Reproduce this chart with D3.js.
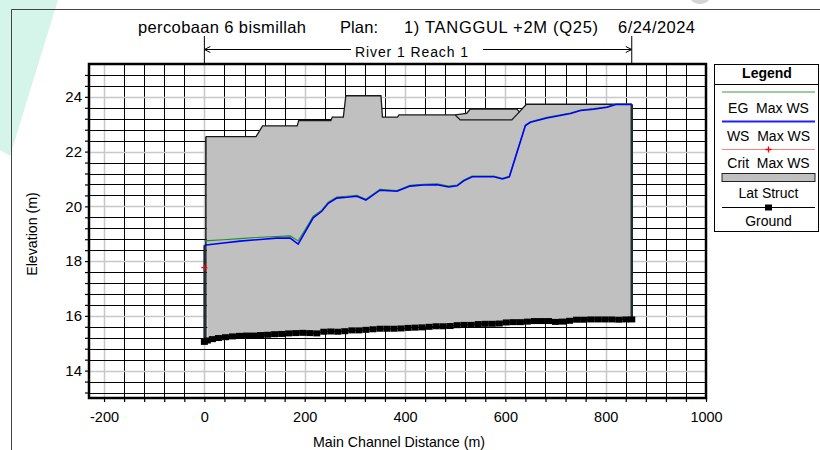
<!DOCTYPE html>
<html><head><meta charset="utf-8">
<script src="https://cdn.jsdelivr.net/npm/d3@7"></script>
<style>
html,body{margin:0;padding:0;background:#fff;}
svg{display:block;font-family:Arial,"Liberation Sans",sans-serif;}
</style></head>
<body>
<svg id="chart" width="820" height="450"></svg>
<script>
// ---------- DATA ----------
const titleParts = ["percobaan 6 bismillah", "Plan:", "1) TANGGUL +2M (Q25)", "6/24/2024"];
const reachLabel = "River 1 Reach 1";
const reachStart = 0, reachEnd = 852;
const xTickLabels = [-200, 0, 200, 400, 600, 800, 1000];
const yTickLabels = [14, 16, 18, 20, 22, 24];
const xTitle = "Main Channel Distance (m)";
const yTitle = "Elevation (m)";

const groundSta  = [0,6,16,28,42,56,70,84,98,112,126,140,154,168,182,196,210,224,238,252,266,280,294,308,322,336,350,364,378,392,406,420,434,448,462,476,490,504,518,532,546,560,574,588,602,616,630,644,658,672,686,700,714,728,742,756,770,784,798,812,826,840,852];
const groundElev = [15.05,15.10,15.15,15.19,15.22,15.25,15.27,15.28,15.28,15.30,15.31,15.33,15.34,15.36,15.37,15.38,15.37,15.36,15.42,15.43,15.42,15.44,15.47,15.47,15.49,15.51,15.53,15.53,15.53,15.54,15.56,15.57,15.58,15.60,15.62,15.62,15.63,15.66,15.67,15.67,15.70,15.71,15.71,15.72,15.76,15.77,15.77,15.79,15.81,15.81,15.81,15.78,15.79,15.82,15.86,15.86,15.87,15.87,15.87,15.87,15.86,15.87,15.87];

const wsSta  = [0,8,38,71,111,144,171,187,201,217,234,247,264,284,304,322,350,384,410,437,464,487,504,517,534,577,594,608,640,650,683,730,750,776,803,820,852];
const wsElev = [18.58,18.60,18.66,18.73,18.79,18.84,18.84,18.62,19.07,19.58,19.82,20.11,20.30,20.33,20.37,20.23,20.59,20.55,20.74,20.78,20.79,20.71,20.75,20.93,21.08,21.08,21.00,21.08,22.95,23.07,23.23,23.39,23.50,23.55,23.62,23.72,23.72];
const egSta  = [0,8,38,71,111,144,171,187,201,217,234,247,264,284,304,322,350,384,410,437,464,487,504,517,534,577,594,608,640,650,683,730,750,776,803,820,852];
const egElev = [18.74,18.75,18.78,18.82,18.87,18.90,18.92,18.74,19.15,19.64,19.86,20.15,20.34,20.37,20.40,20.26,20.62,20.58,20.77,20.81,20.82,20.74,20.78,20.96,21.11,21.11,21.03,21.10,22.97,23.09,23.25,23.41,23.52,23.57,23.64,23.74,23.74];
const critSta  = [0];
const critElev = [17.76];

const latSta  = [3,103,116,185,188,252,255,277,282,352,355,385,388,500,523,530,623,628,642,852];
const latElev = [22.55,22.55,22.94,22.94,23.13,23.13,23.26,23.26,24.04,24.04,23.26,23.26,23.34,23.34,23.40,23.55,23.55,23.45,23.73,23.73];
const latLowSta  = [500,510,613,628];
const latLowElev = [23.34,23.16,23.16,23.45];

const legendItems = ["EG  Max WS", "WS  Max WS", "Crit  Max WS", "Lat Struct", "Ground"];

// ---------- LAYOUT ----------
const svg = d3.select("#chart");
const L = 89, R = 706, T = 64, B = 398;
const x = d3.scaleLinear().domain([-230, 1000]).range([L, R]);
const y = d3.scaleLinear().domain([13, 25.2]).range([B, T]);

// decorative background
svg.append("polygon").attr("points", "0,0 58,0 10,156 0,150").attr("fill", "#d6f5ea");
svg.append("ellipse").attr("cx", 700).attr("cy", -10).attr("rx", 13).attr("ry", 14).attr("fill", "#d4d4d4");
svg.append("path").attr("d", "M11.5,450 V9.5 H820").attr("fill", "none").attr("stroke", "#444").attr("stroke-width", 1);

// title
const titleX = [138, 340, 404, 618], titleW = [168, 38, 194, 77];
titleParts.forEach((t, i) => {
  svg.append("text").attr("x", titleX[i]).attr("y", 33).attr("font-size", 16.5)
    .attr("textLength", titleW[i]).attr("lengthAdjust", "spacing").attr("fill", "#000").text(t);
});

// reach arrow
const xr0 = x(reachStart), xr1 = x(reachEnd);
svg.append("text").attr("x", 355).attr("y", 57).attr("font-size", 14).attr("textLength", 113)
  .attr("lengthAdjust", "spacing").text(reachLabel);
const ra = svg.append("g").attr("stroke", "#000").attr("stroke-width", 1).attr("fill", "none");
ra.append("line").attr("x1", xr0).attr("x2", xr0).attr("y1", 36).attr("y2", T);
ra.append("line").attr("x1", xr1).attr("x2", xr1).attr("y1", 36).attr("y2", T);
ra.append("line").attr("x1", xr0).attr("x2", 351).attr("y1", 49.5).attr("y2", 49.5);
ra.append("line").attr("x1", 483).attr("x2", xr1).attr("y1", 49.5).attr("y2", 49.5);
ra.append("path").attr("d", `M${xr0+6},46.5 L${xr0},49.5 L${xr0+6},52.5`);
ra.append("path").attr("d", `M${xr1-6},46.5 L${xr1},49.5 L${xr1-6},52.5`);

// plot background + grid
svg.append("rect").attr("x", L).attr("y", T).attr("width", R - L).attr("height", B - T).attr("fill", "#fff");
const xMinor = d3.range(-5, 26).map(k => k * 40);
const yMinor = d3.range(33, 64).map(k => +(k * 0.4).toFixed(1));
const isMajX = v => v % 200 === 0;
const isMajY = v => Math.abs(v / 2 - Math.round(v / 2)) < 1e-6;
const grid = svg.append("g");
xMinor.filter(v => x(v) > L + 1 && x(v) < R - 1).forEach(v => {
  grid.append("line").attr("x1", Math.round(x(v)) + 0.5).attr("x2", Math.round(x(v)) + 0.5).attr("y1", T).attr("y2", B)
    .attr("stroke", isMajX(v) ? "#c8c8c8" : "#000").attr("stroke-width", isMajX(v) ? 1.5 : 1);
});
yMinor.filter(v => y(v) > T + 1 && y(v) < B - 1).forEach(v => {
  grid.append("line").attr("y1", Math.round(y(v)) + 0.5).attr("y2", Math.round(y(v)) + 0.5).attr("x1", L).attr("x2", R)
    .attr("stroke", isMajY(v) ? "#c8c8c8" : "#000").attr("stroke-width", isMajY(v) ? 1.5 : 1);
});

// lateral structure polygon (top profile down to ground)
const latTop = latSta.map((s, i) => [s, latElev[i]]);
const groundPts = groundSta.map((s, i) => [s, groundElev[i]]);
const gBelow = groundPts.filter(p => p[0] >= latSta[0] && p[0] <= latSta[latSta.length - 1]).slice().reverse();
const poly = latTop.concat(gBelow);
svg.append("path").attr("d", d3.line().x(d => x(d[0])).y(d => y(d[1]))(poly) + "Z")
  .attr("fill", "#c0c0c0").attr("stroke", "none");
svg.append("path").attr("d", d3.line().x(d => x(d[0])).y(d => y(d[1]))(latTop))
  .attr("fill", "none").attr("stroke", "#1a1a1a").attr("stroke-width", 1.3);
svg.append("path").attr("d", d3.line().x(d => x(d[0])).y(d => y(d[1]))(latLowSta.map((s, i) => [s, latLowElev[i]])))
  .attr("fill", "none").attr("stroke", "#1a1a1a").attr("stroke-width", 1.3);
// structure end walls
svg.append("line").attr("x1", x(latSta[0])).attr("x2", x(latSta[0])).attr("y1", y(latElev[0])).attr("y2", y(groundElev[0]))
  .attr("stroke", "#1a1a1a").attr("stroke-width", 1.5);
svg.append("line").attr("x1", x(852)).attr("x2", x(852)).attr("y1", y(latElev[latElev.length - 1])).attr("y2", y(groundElev[groundElev.length - 1]))
  .attr("stroke", "#1c3030").attr("stroke-width", 2.5);
svg.append("line").attr("x1", x(0)).attr("x2", x(0)).attr("y1", y(wsElev[0])).attr("y2", y(groundElev[0]))
  .attr("stroke", "#1c2c3c").attr("stroke-width", 2);

// EG and WS lines
const ln = d3.line().x(d => x(d[0])).y(d => y(d[1]));
svg.append("path").attr("d", ln(egSta.map((s, i) => [s, egElev[i]]))).attr("fill", "none").attr("stroke", "#1f8f1f").attr("stroke-width", 1.1);
svg.append("path").attr("d", ln(wsSta.map((s, i) => [s, wsElev[i]]))).attr("fill", "none").attr("stroke", "#0000ff").attr("stroke-width", 1.6);

// Crit marker
critSta.forEach((s, i) => {
  const cx = x(s), cy = y(critElev[i]);
  svg.append("path").attr("d", `M${cx-3},${cy} H${cx+3} M${cx},${cy-3} V${cy+3}`).attr("stroke", "#ff0000").attr("stroke-width", 1.2);
});

// Ground
svg.append("path").attr("d", ln(groundPts)).attr("fill", "none").attr("stroke", "#000").attr("stroke-width", 1);
svg.append("g").selectAll("rect").data(groundPts).join("rect")
  .attr("x", d => x(d[0]) - 3.5).attr("y", d => y(d[1]) - 3).attr("width", 7).attr("height", 6).attr("fill", "#000");

// axes
const xAxis = d3.axisBottom(x).tickValues(xMinor.filter(v => v >= -200 && v <= 1000)).tickSize(4).tickPadding(6)
  .tickFormat(v => xTickLabels.includes(v) ? String(v) : "");
const gx = svg.append("g").attr("transform", `translate(0,${B})`).call(xAxis);
gx.select(".domain").remove();
gx.selectAll(".tick line").attr("stroke", "#000").attr("stroke-width", 1.2);
gx.selectAll("text").attr("font-size", 14.5).attr("font-family", "Arial, 'Liberation Sans', sans-serif").attr("fill", "#000").attr("dy", "0.95em");

const yAxis = d3.axisLeft(y).tickValues(yMinor.filter(v => v > 13 && v < 25.2)).tickSize(4).tickPadding(3)
  .tickFormat(v => yTickLabels.includes(v) ? String(v) : "");
const gy = svg.append("g").attr("transform", `translate(${L},0)`).call(yAxis);
gy.select(".domain").remove();
gy.selectAll(".tick line").attr("stroke", "#000").attr("stroke-width", 1.2);
gy.selectAll("text").attr("font-size", 15).attr("font-family", "Arial, 'Liberation Sans', sans-serif").attr("fill", "#000");

// frame
svg.append("rect").attr("x", L).attr("y", T).attr("width", R - L).attr("height", B - T)
  .attr("fill", "none").attr("stroke", "#000").attr("stroke-width", 2.5);

// axis titles
svg.append("text").attr("x", 399).attr("y", 447).attr("text-anchor", "middle").attr("font-size", 14.2).text(xTitle);
svg.append("text").attr("transform", "translate(37,234) rotate(-90)").attr("text-anchor", "middle").attr("font-size", 14.2).text(yTitle);

// legend
const lg = svg.append("g");
lg.append("rect").attr("x", 714.5).attr("y", 64.5).attr("width", 104).attr("height", 167).attr("fill", "#fff").attr("stroke", "#000").attr("stroke-width", 1);
lg.append("line").attr("x1", 714.5).attr("x2", 818.5).attr("y1", 84.5).attr("y2", 84.5).attr("stroke", "#000");
lg.append("text").attr("x", 767).attr("y", 78).attr("text-anchor", "middle").attr("font-size", 14).attr("font-weight", "bold").text("Legend");
const lx0 = 722, lx1 = 815, lcx = 768.5;
lg.append("line").attr("x1", lx0).attr("x2", lx1).attr("y1", 92).attr("y2", 92).attr("stroke", "#3a9a3a").attr("stroke-width", 1);
lg.append("line").attr("x1", lx0).attr("x2", lx1).attr("y1", 121.5).attr("y2", 121.5).attr("stroke", "#2020ff").attr("stroke-width", 2);
lg.append("line").attr("x1", lx0).attr("x2", lx1).attr("y1", 149.5).attr("y2", 149.5).attr("stroke", "#ff8080").attr("stroke-width", 1);
lg.append("path").attr("d", `M${lcx-3},149.5 H${lcx+3} M${lcx},146.5 V152.5`).attr("stroke", "#ff0000").attr("stroke-width", 1.3);
lg.append("rect").attr("x", lx0).attr("y", 173.5).attr("width", lx1 - lx0).attr("height", 8).attr("fill", "#c0c0c0").attr("stroke", "#222").attr("stroke-width", 1);
lg.append("line").attr("x1", lx0).attr("x2", lx1).attr("y1", 207.5).attr("y2", 207.5).attr("stroke", "#000").attr("stroke-width", 1);
lg.append("rect").attr("x", lcx - 3.5).attr("y", 204.5).attr("width", 7).attr("height", 6).attr("fill", "#000");
const lyBase = [112.5, 140.5, 168, 197.5, 225.5];
legendItems.forEach((t, i) => {
  lg.append("text").attr("x", lcx).attr("y", lyBase[i]).attr("text-anchor", "middle").attr("font-size", 14)
    .style("white-space", "pre").text(t);
});
</script>
</body></html>
